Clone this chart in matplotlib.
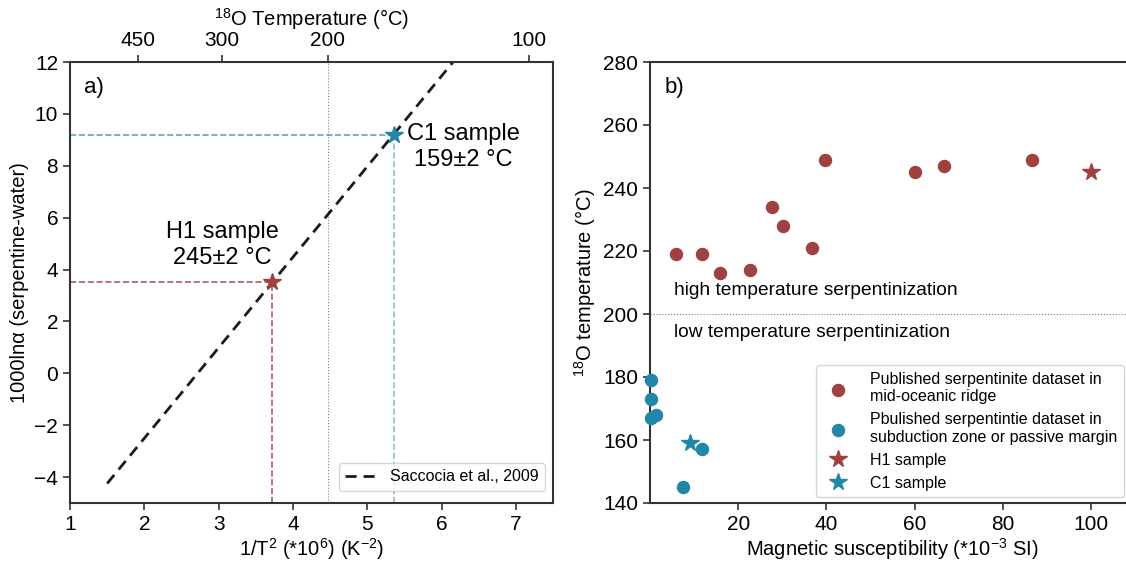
import matplotlib
matplotlib.use("Agg")
import matplotlib.pyplot as plt
import numpy as np

plt.rcParams['font.family'] = ['Liberation Sans', 'DejaVu Sans']
plt.rcParams['mathtext.fontset'] = 'custom'
plt.rcParams['mathtext.rm'] = 'Liberation Sans'
plt.rcParams['mathtext.it'] = 'Liberation Sans:italic'
plt.rcParams['mathtext.bf'] = 'Liberation Sans:bold'

RED = '#a04141'
CYAN = '#2187a7'

# panel a) calibration line (Saccocia et al., 2009)
line_x = [1.5, 6.155]
line_y = [-4.25, 12.0]
h1_x, h1_y = 3.72, 3.52
c1_x, c1_y = 5.36, 9.2
top_temps = [450, 300, 200, 100]

# panel b)
mor_sus = [5.8, 11.7, 15.9, 22.7, 27.7, 30.1, 36.7, 39.7, 60.1, 66.6, 86.7]
mor_temp = [219, 219, 213, 214, 234, 228, 221, 249, 245, 247, 249]
sub_sus = [0.3, 0.3, 0.3, 1.3, 11.9, 7.5]
sub_temp = [179, 173, 167, 168, 157, 145]
h1_sus, h1_temp = 100, 245
c1_sus, c1_temp = 9, 159

fig = plt.figure(figsize=(11.26, 5.61), dpi=100)
ax1 = fig.add_axes([70/1126, 1-503/561, 483/1126, 441/561])
ax2 = fig.add_axes([650/1126, 1-503/561, 485/1126, 441/561])

for ax in (ax1, ax2):
    for s in ax.spines.values():
        s.set_color('#333333')
        s.set_linewidth(1.5)
    ax.tick_params(labelsize=15, width=1.2, length=5, color='#333333')

# ---- panel a
ax1.set_xlim(1, 7.5)
ax1.set_ylim(-5, 12)
x200 = 1e6 / (200 + 273.15) ** 2
ax1.axvline(x200, color='gray', ls=':', lw=0.8)
ax1.plot(line_x, line_y, '--', color='#1a1a1a', lw=2, dashes=(4, 2.5),
         label='Saccocia et al., 2009')
ax1.plot([1, h1_x], [h1_y, h1_y], '--', color=RED, lw=1.2, alpha=0.85)
ax1.plot([h1_x, h1_x], [-5, h1_y], '--', color=RED, lw=1.2, alpha=0.85)
ax1.plot([1, c1_x], [c1_y, c1_y], '--', color=CYAN, lw=1.2, alpha=0.75)
ax1.plot([c1_x, c1_x], [-5, c1_y], '--', color=CYAN, lw=1.2, alpha=0.55)
ax1.plot(h1_x, h1_y, '*', color=RED, ms=13, zorder=5)
ax1.plot(c1_x, c1_y, '*', color=CYAN, ms=13, zorder=5)
ax1.text(3.05, 4.95, 'H1 sample\n245±2 °C', fontsize=17, ha='center', va='center')
ax1.text(6.29, 8.72, 'C1 sample\n159±2 °C', fontsize=17, ha='center', va='center')
ax1.text(0.028, 0.965, 'a)', transform=ax1.transAxes, fontsize=16, va='top')
ax1.set_xticks([1, 2, 3, 4, 5, 6, 7])
ax1.set_yticks(np.arange(-4, 13, 2))
ax1.set_xlabel('1/T$^2$ (*10$^6$) (K$^{-2}$)', fontsize=14.5, labelpad=2)
ax1.set_ylabel('1000lnα (serpentine-water)', fontsize=14.5)
ax1.legend(loc='lower right', fontsize=11.5, handlelength=2.0,
           bbox_to_anchor=(1.0, 0.01))

axt = ax1.twiny()
axt.set_xlim(ax1.get_xlim())
axt.set_xticks([1e6 / (t + 273.15) ** 2 for t in top_temps])
axt.set_xticklabels([str(t) for t in top_temps])
axt.tick_params(labelsize=15, width=1.2, length=5, color='#333333')
axt.set_xlabel('$^{18}$O Temperature (°C)', fontsize=14.5)
for s in axt.spines.values():
    s.set_visible(False)

# ---- panel b
ax2.set_xlim(0, 110)
ax2.set_ylim(140, 280)
ax2.spines['right'].set_visible(False)
ax2.axhline(200, color='gray', ls=':', lw=0.8)
ax2.scatter(mor_sus, mor_temp, s=75, color=RED, zorder=3,
            label='Published serpentinite dataset in\nmid-oceanic ridge')
ax2.scatter(sub_sus, sub_temp, s=75, color=CYAN, zorder=3, clip_on=False,
            label='Pbulished serpentintie dataset in\nsubduction zone or passive margin')
ax2.plot(h1_sus, h1_temp, '*', color=RED, ms=13, ls='none', label='H1 sample')
ax2.plot(c1_sus, c1_temp, '*', color=CYAN, ms=13, ls='none', label='C1 sample')
ax2.text(5.4, 207.6, 'high temperature serpentinization', fontsize=13.8, va='center')
ax2.text(5.4, 194, 'low temperature serpentinization', fontsize=13.8, va='center')
ax2.text(0.03, 0.965, 'b)', transform=ax2.transAxes, fontsize=16, va='top')
ax2.set_xticks([20, 40, 60, 80, 100])
ax2.set_yticks(np.arange(140, 281, 20))
ax2.set_xlabel('Magnetic susceptibility (*10$^{-3}$ SI)', fontsize=14.5, labelpad=2)
ax2.set_ylabel('$^{18}$O temperature (°C)', fontsize=14.5)
ax2.legend(loc='lower right', bbox_to_anchor=(1124/1126, 1-497/561),
           bbox_transform=fig.transFigure, borderaxespad=0,
           fontsize=11.5, handletextpad=1.0, labelspacing=0.5)

fig.savefig('out.png', dpi=100)
